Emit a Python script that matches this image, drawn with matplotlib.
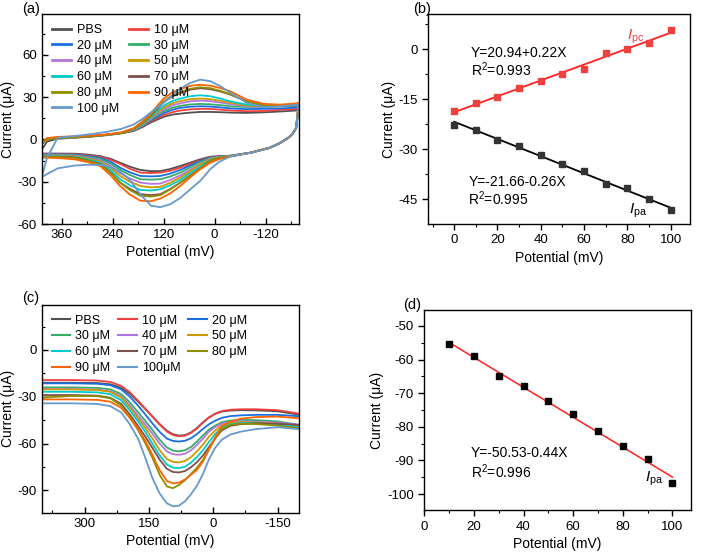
import numpy as np
import matplotlib
matplotlib.use("Agg")
import matplotlib.pyplot as plt
from matplotlib.ticker import MultipleLocator

plt.rcParams["font.family"] = ["Liberation Sans", "DejaVu Sans"]
plt.rcParams["axes.unicode_minus"] = False
plt.rcParams["mathtext.fontset"] = "custom"
plt.rcParams["mathtext.rm"] = "Liberation Sans"
plt.rcParams["mathtext.it"] = "Liberation Sans:italic"
plt.rcParams["font.size"] = 9.5

# ---- shared legend info ----
labels_a = ["PBS", "10 μM", "20 μM", "30 μM", "40 μM", "50 μM",
            "60 μM", "70 μM", "80 μM", "90 μM", "100 μM"]
labels_c = ["PBS", "10 μM", "20 μM", "30 μM", "40 μM", "50 μM",
            "60 μM", "70 μM", "80 μM", "90 μM", "100μM"]
colors = ["#515151", "#F14040", "#1A6FDF", "#37AD6B", "#B177DE", "#CC9900",
          "#00CBCC", "#7D4E4E", "#8E8E00", "#FB6501", "#6699CC"]

# ---- (a) cyclic voltammograms: forward (upper) and reverse (lower) scans ----
cv_up_pot = [407, 395, 370, 330, 290, 254, 220, 191, 170, 152, 136, 120, 100,
             81, 58, 34, 10, -15, -37, -76, -116, -155, -191, -198]
cv_up = [
    [-7.0, -1.5, 0.5, 1.2, 2.0, 3.0, 4.3, 6.0, 8.8, 11.8, 14.0, 16.0, 17.6, 18.3, 19.0, 19.5, 19.5, 19.3, 19.0, 18.8, 19.2, 19.8, 20.5, 21.0],
    [-3.0, 0.0, 1.0, 1.5, 2.3, 3.3, 4.6, 6.2, 9.2, 12.5, 15.0, 17.3, 19.3, 20.5, 21.3, 21.7, 21.6, 21.1, 20.5, 20.0, 20.2, 21.0, 21.5, 22.0],
    [-3.0, 0.0, 1.0, 1.5, 2.3, 3.3, 4.6, 6.4, 9.6, 13.2, 16.0, 18.7, 21.0, 22.4, 23.2, 23.5, 23.3, 22.7, 22.0, 21.5, 21.7, 22.0, 22.5, 23.0],
    [-3.0, 0.0, 1.0, 1.5, 2.3, 3.3, 4.6, 6.6, 10.0, 13.8, 17.0, 20.0, 22.5, 23.8, 24.8, 25.2, 24.9, 24.3, 23.5, 23.0, 23.0, 24.0, 25.0, 25.5],
    [-3.0, 0.0, 1.0, 1.5, 2.3, 3.3, 4.6, 6.8, 10.4, 14.4, 18.0, 21.3, 24.2, 25.6, 27.0, 27.5, 27.1, 26.1, 25.0, 23.5, 23.0, 23.5, 24.0, 24.5],
    [-3.0, 0.0, 1.0, 1.5, 2.3, 3.3, 4.6, 7.0, 10.8, 15.0, 19.0, 22.6, 25.6, 27.2, 28.5, 29.0, 28.5, 27.3, 26.0, 24.0, 23.5, 23.5, 24.0, 24.5],
    [-3.0, 0.0, 1.0, 1.5, 2.3, 3.3, 4.6, 7.2, 11.2, 15.6, 20.0, 24.0, 27.2, 29.0, 30.6, 31.3, 30.6, 28.9, 27.0, 24.7, 23.8, 23.5, 24.0, 24.5],
    [-3.0, 0.0, 1.0, 1.5, 2.3, 3.3, 4.6, 7.5, 11.8, 16.5, 21.5, 26.5, 30.5, 32.8, 35.3, 36.3, 35.6, 33.9, 31.8, 27.0, 24.3, 24.0, 24.0, 24.5],
    [-3.0, 0.0, 1.0, 1.5, 2.3, 3.3, 4.6, 7.5, 12.0, 16.8, 22.0, 27.0, 31.2, 33.4, 35.9, 37.0, 36.3, 34.3, 32.0, 27.0, 24.3, 24.0, 24.5, 25.0],
    [-2.0, 1.0, 1.8, 2.2, 2.8, 3.6, 5.0, 8.0, 12.8, 17.8, 23.5, 29.0, 33.3, 35.6, 38.0, 38.8, 38.1, 36.3, 34.1, 28.2, 25.2, 24.7, 25.5, 26.0],
    [-26.0, -13.0, 1.2, 2.4, 3.8, 5.4, 7.5, 10.6, 14.5, 18.8, 22.5, 26.0, 31.0, 36.0, 40.0, 42.4, 41.3, 37.5, 33.0, 25.9, 22.8, 23.5, 24.5, 25.0],
]
cv_down_pot = [-198, -192, -185, -175, -155, -130, -85, -37, -10, 10, 34, 58, 81,
               105, 128, 150, 175, 200, 223, 245, 270, 300, 330, 370, 407]
cv_down = [
    [21.0, 8.0, 4.5, 1.5, -2.4, -5.9, -9.4, -11.5, -11.9, -12.2, -14.1, -16.5, -18.8, -21.0, -22.4, -22.5, -21.6, -19.3, -16.5, -13.8, -11.8, -10.7, -10.1, -10.0, -10.0],
    [22.0, 8.0, 4.5, 1.5, -2.4, -5.9, -9.4, -11.6, -12.0, -12.5, -14.8, -17.4, -20.0, -22.2, -23.5, -23.8, -23.5, -20.8, -17.3, -14.5, -12.3, -11.2, -10.5, -10.3, -10.3],
    [23.0, 8.0, 4.5, 1.5, -2.4, -5.9, -9.4, -11.7, -12.2, -12.8, -15.3, -18.5, -21.6, -24.2, -25.9, -26.2, -25.9, -23.3, -20.0, -15.9, -13.0, -11.7, -10.8, -10.6, -10.6],
    [25.5, 8.0, 4.5, 1.5, -2.4, -5.9, -9.4, -11.8, -12.4, -13.2, -16.0, -19.8, -23.5, -26.3, -28.2, -28.5, -28.2, -25.2, -21.6, -17.2, -13.8, -12.2, -11.2, -10.9, -10.9],
    [24.5, 8.0, 4.5, 1.5, -2.4, -5.9, -9.4, -11.8, -12.6, -13.6, -17.4, -21.5, -25.4, -28.8, -31.3, -31.5, -30.6, -27.6, -24.0, -18.8, -14.8, -12.9, -11.6, -11.3, -11.2],
    [24.5, 8.0, 4.5, 1.5, -2.4, -5.9, -9.4, -11.8, -12.8, -14.0, -17.9, -22.5, -27.0, -30.8, -33.6, -34.0, -33.0, -29.8, -25.9, -20.2, -15.6, -13.4, -12.0, -11.6, -11.5],
    [24.5, 8.0, 4.5, 1.5, -2.4, -5.9, -9.4, -11.9, -13.1, -14.5, -19.3, -24.0, -28.7, -32.5, -35.3, -36.2, -35.8, -32.5, -28.2, -21.8, -16.5, -14.0, -12.4, -11.9, -11.8],
    [24.5, 8.0, 4.5, 1.5, -2.4, -5.9, -9.4, -12.0, -13.4, -15.0, -20.7, -25.7, -30.6, -35.2, -38.8, -39.5, -38.8, -35.0, -30.6, -23.5, -17.5, -14.7, -12.8, -12.3, -12.2],
    [25.0, 8.0, 4.5, 1.5, -2.4, -5.9, -9.4, -12.0, -13.4, -15.0, -20.7, -25.8, -30.6, -35.5, -39.5, -40.5, -40.0, -35.8, -30.6, -24.0, -17.8, -14.9, -13.0, -12.5, -12.3],
    [26.0, 8.0, 4.5, 1.5, -2.4, -5.9, -9.4, -12.0, -14.0, -16.5, -21.2, -27.0, -33.0, -38.3, -41.9, -43.8, -43.5, -39.0, -33.0, -25.5, -18.8, -16.0, -14.1, -13.2, -12.9],
    [25.0, 8.0, 4.5, 1.5, -2.4, -5.9, -9.4, -12.0, -16.0, -21.0, -29.4, -35.5, -41.5, -46.0, -48.0, -47.0, -39.0, -28.5, -23.0, -19.5, -18.0, -18.0, -18.5, -20.5, -26.5],
]

# ---- (b) peak currents vs concentration ----
conc_b = [0, 10, 20, 30, 40, 50, 60, 70, 80, 90, 100]
ipc_b = [-18.5, -16.2, -14.2, -11.7, -9.4, -7.5, -5.9, -1.2, 0.2, 2.0, 5.8]
ipa_b = [-22.7, -24.1, -27.1, -28.9, -31.6, -34.4, -36.5, -40.5, -41.7, -45.0, -48.3]

# ---- (c) differential pulse voltammograms ----
dpv_pot = [400, 330, 270, 240, 215, 195, 175, 158, 142, 125, 108, 94, 80, 66,
           52, 38, 24, 10, -5, -20, -40, -65, -100, -150, -200]
dpv = [
    [-21.0, -21.0, -21.2, -22.0, -24.2, -28.0, -33.2, -38.0, -42.6, -47.5, -51.8, -54.0, -54.9, -54.6, -52.9, -50.0, -46.4, -43.2, -40.9, -39.5, -38.8, -38.6, -38.7, -39.3, -41.5],
    [-19.3, -19.3, -19.6, -20.5, -23.0, -27.0, -32.6, -37.8, -42.7, -47.8, -52.3, -54.5, -55.3, -54.9, -53.2, -50.3, -46.6, -43.3, -40.8, -39.2, -38.3, -38.0, -38.0, -38.6, -40.8],
    [-21.4, -21.4, -21.7, -22.6, -25.2, -29.8, -35.8, -41.5, -47.0, -52.5, -56.8, -58.3, -58.7, -58.2, -56.6, -53.9, -50.6, -47.6, -45.3, -43.5, -42.4, -41.9, -41.6, -41.6, -42.5],
    [-24.0, -24.0, -24.3, -25.3, -28.2, -33.5, -40.0, -45.7, -51.2, -57.5, -62.5, -64.5, -65.0, -64.3, -62.2, -58.7, -54.8, -51.0, -48.4, -46.3, -45.2, -44.8, -45.0, -45.8, -48.0],
    [-25.1, -25.1, -25.4, -26.5, -29.6, -35.4, -42.4, -48.0, -53.6, -60.0, -65.0, -66.8, -67.2, -66.5, -64.3, -60.8, -56.8, -52.3, -49.3, -47.2, -46.2, -45.8, -46.0, -46.6, -48.0],
    [-25.3, -25.3, -25.7, -26.9, -30.5, -36.7, -44.0, -50.2, -56.7, -64.2, -69.9, -71.7, -72.1, -71.2, -68.7, -65.0, -60.7, -55.6, -51.5, -48.3, -46.9, -46.4, -46.5, -47.2, -49.0],
    [-26.8, -26.8, -27.2, -28.4, -32.2, -38.5, -45.9, -52.7, -59.9, -67.6, -73.5, -75.4, -75.7, -74.8, -72.2, -68.6, -64.3, -58.9, -53.8, -49.6, -47.6, -46.9, -47.0, -47.8, -49.5],
    [-28.9, -28.9, -29.3, -30.6, -34.5, -41.2, -48.9, -55.7, -62.7, -70.3, -76.2, -78.2, -78.5, -77.6, -75.2, -71.9, -67.6, -62.2, -56.5, -51.5, -48.6, -47.5, -47.0, -47.3, -48.0],
    [-30.5, -29.5, -29.6, -31.0, -35.5, -42.8, -51.5, -60.0, -69.0, -80.0, -87.5, -88.6, -86.5, -83.5, -79.5, -75.5, -70.5, -63.5, -56.5, -50.8, -48.0, -47.3, -47.5, -48.5, -50.1],
    [-31.7, -31.7, -32.0, -33.2, -37.0, -43.5, -50.5, -58.5, -67.2, -77.0, -84.0, -85.5, -85.0, -83.0, -80.0, -76.8, -71.5, -63.8, -55.8, -49.0, -45.8, -44.0, -43.0, -42.7, -43.8],
    [-34.2, -34.2, -34.6, -36.0, -40.0, -47.5, -57.0, -69.5, -82.0, -92.0, -98.3, -100.2, -99.8, -97.0, -92.5, -87.0, -79.5, -70.0, -62.5, -57.5, -54.2, -52.3, -50.7, -49.5, -50.8],
]

# ---- (d) DPV peak current vs concentration ----
conc_d = [10, 20, 30, 40, 50, 60, 70, 80, 90, 100]
ipa_d = [-55.5, -59.0, -65.0, -68.0, -72.3, -76.2, -81.2, -85.6, -89.7, -96.8]


def style_axes(ax, direction):
    for side in ["top", "right", "bottom", "left"]:
        ax.spines[side].set_linewidth(1.0)
    ax.tick_params(which="both", direction=direction, top=False, right=False)
    ax.tick_params(which="major", length=4, width=1.0, labelsize=9.5)
    ax.tick_params(which="minor", length=2, width=0.8)
    ax.set_xlabel("Potential (mV)", fontsize=10, labelpad=3)
    ax.set_ylabel("Current (μA)", fontsize=10, labelpad=2)


fig = plt.figure(figsize=(7.02, 5.56), dpi=100)

# (a)
ax_a = fig.add_axes([0.0598, 0.597, 0.3662, 0.378])
lines_a = []
for i in range(len(labels_a)):
    pot = cv_up_pot + cv_down_pot
    cur = cv_up[i] + cv_down[i]
    ln, = ax_a.plot(pot, cur, color=colors[i], lw=1.3, label=labels_a[i])
    lines_a.append(ln)
ax_a.set_xlim(407, -199)
ax_a.set_ylim(-60, 89)
ax_a.xaxis.set_major_locator(MultipleLocator(120))
ax_a.xaxis.set_minor_locator(MultipleLocator(60))
ax_a.yaxis.set_major_locator(MultipleLocator(30))
ax_a.yaxis.set_minor_locator(MultipleLocator(15))
style_axes(ax_a, "in")
# legend reads row by row: PBS 10 / 20 30 / ...
order_a = [0, 2, 4, 6, 8, 10, 1, 3, 5, 7, 9]
leg = ax_a.legend([lines_a[k] for k in order_a], [labels_a[k] for k in order_a],
                  ncol=2, loc="upper left", bbox_to_anchor=(0.0, 1.0), frameon=False,
                  fontsize=9, handlelength=1.5, handletextpad=0.5, columnspacing=0.8,
                  labelspacing=0.3, borderaxespad=0.4)
for h in leg.get_lines():
    h.set_linewidth(2.0)

# (b)
ax_b = fig.add_axes([0.610, 0.597, 0.373, 0.378])
fit_pc = np.polyfit(conc_b, ipc_b, 1)
fit_pa = np.polyfit(conc_b, ipa_b, 1)
xs_b = np.array([conc_b[0], conc_b[-1]])
ax_b.plot(xs_b, np.polyval(fit_pc, xs_b), color="#FF2020", lw=1.3)
ax_b.plot(xs_b, np.polyval(fit_pa, xs_b), color="black", lw=1.3)
ax_b.plot(conc_b, ipc_b, "s", color="#F14040", ms=4)
ax_b.plot(conc_b, ipa_b, "s", color="#333333", ms=4)
ax_b.set_xlim(-12, 109)
ax_b.set_ylim(-52.4, 10.6)
ax_b.xaxis.set_major_locator(MultipleLocator(20))
ax_b.xaxis.set_minor_locator(MultipleLocator(10))
ax_b.yaxis.set_major_locator(MultipleLocator(15))
ax_b.yaxis.set_minor_locator(MultipleLocator(7.5))
style_axes(ax_b, "out")
ax_b.text(7.7, -1.0, "Y=20.94+0.22X", fontsize=10, va="center")
ax_b.text(7.7, -6.0, "R$^2$=0.993", fontsize=10, va="center")
ax_b.text(80.0, 3.6, r"$I_{\rm pc}$", fontsize=11, va="center", color="#F14040")
ax_b.text(6.5, -39.7, "Y=-21.66-0.26X", fontsize=10, va="center")
ax_b.text(6.5, -44.7, "R$^2$=0.995", fontsize=10, va="center")
ax_b.text(81.0, -48.4, r"$I_{\rm pa}$", fontsize=11, va="center")

# (c)
ax_c = fig.add_axes([0.0594, 0.0773, 0.3666, 0.3747])
lines_c = []
for i in range(len(labels_c)):
    ln, = ax_c.plot(dpv_pot, dpv[i], color=colors[i], lw=1.3, label=labels_c[i])
    lines_c.append(ln)
ax_c.set_xlim(400, -200)
ax_c.set_ylim(-104.5, 29)
ax_c.xaxis.set_major_locator(MultipleLocator(150))
ax_c.xaxis.set_minor_locator(MultipleLocator(75))
ax_c.yaxis.set_major_locator(MultipleLocator(30))
ax_c.yaxis.set_minor_locator(MultipleLocator(15))
style_axes(ax_c, "in")
# legend reads row by row in three columns
order_c = [0, 3, 6, 9, 1, 4, 7, 10, 2, 5, 8]
leg = ax_c.legend([lines_c[k] for k in order_c], [labels_c[k] for k in order_c],
                  ncol=3, loc="upper left", bbox_to_anchor=(0.0, 1.0), frameon=False,
                  fontsize=9, handlelength=1.5, handletextpad=0.4, columnspacing=0.6,
                  labelspacing=0.3, borderaxespad=0.4)
for h in leg.get_lines():
    h.set_linewidth(1.5)

# (d)
ax_d = fig.add_axes([0.6044, 0.0822, 0.3799, 0.3608])
fit_d = np.polyfit(conc_d, ipa_d, 1)
xs_d = np.array([conc_d[0], conc_d[-1]])
ax_d.plot(xs_d, np.polyval(fit_d, xs_d), color="#FF2020", lw=1.1)
ax_d.plot(conc_d, ipa_d, "s", color="black", ms=4.5)
ax_d.set_xlim(0, 107.5)
ax_d.set_ylim(-104.8, -45.2)
ax_d.xaxis.set_major_locator(MultipleLocator(20))
ax_d.xaxis.set_minor_locator(MultipleLocator(10))
ax_d.yaxis.set_major_locator(MultipleLocator(10))
ax_d.yaxis.set_minor_locator(MultipleLocator(5))
style_axes(ax_d, "out")
ax_d.text(18.8, -87.8, "Y=-50.53-0.44X", fontsize=10, va="center")
ax_d.text(18.8, -93.3, "R$^2$=0.996", fontsize=10, va="center")
ax_d.text(89.0, -95.5, r"$I_{\rm pa}$", fontsize=11, va="center")

# panel labels
fig.text(0.031, 0.984, "(a)", fontsize=10.5, va="center")
fig.text(0.588, 0.984, "(b)", fontsize=10.5, va="center")
fig.text(0.031, 0.464, "(c)", fontsize=10.5, va="center")
fig.text(0.574, 0.451, "(d)", fontsize=10.5, va="center")

fig.savefig("out.png", dpi=100)
